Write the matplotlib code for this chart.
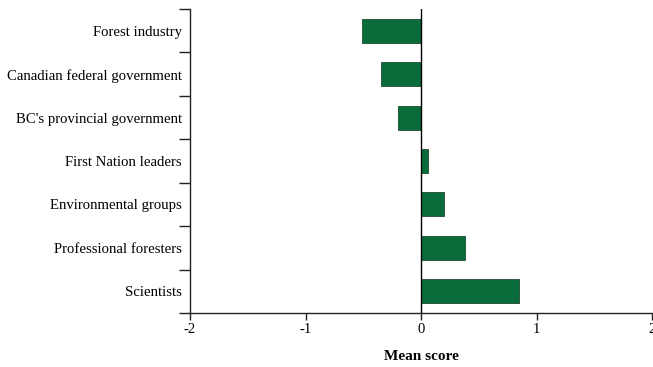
import matplotlib
matplotlib.use("Agg")
import matplotlib.pyplot as plt
import numpy as np

plt.rcParams["font.family"] = ["Liberation Serif", "DejaVu Serif"]
plt.rcParams["axes.unicode_minus"] = False

groups = [
    "Forest industry",
    "Canadian federal government",
    "BC's provincial government",
    "First Nation leaders",
    "Environmental groups",
    "Professional foresters",
    "Scientists",
]
mean_scores = [-0.51, -0.35, -0.20, 0.06, 0.20, 0.38, 0.85]
x_ticks = [-2, -1, 0, 1, 2]

fig = plt.figure(figsize=(6.53, 3.67), dpi=100)
ax = fig.add_axes([190 / 653, 54 / 367, 462 / 653, 304 / 367])

n = len(groups)
ypos = np.arange(n)[::-1]  # first group at top
ax.barh(ypos, mean_scores, height=0.55, color="#0a6b3b",
        edgecolor="#1f4a30", linewidth=0.6, zorder=2)

ax.set_xlim(-2, 2)
ax.set_ylim(-0.5, n - 0.5)
ax.axvline(0, color="black", linewidth=1.0, zorder=3)

for side in ("top", "right"):
    ax.spines[side].set_visible(False)
for side in ("left", "bottom"):
    ax.spines[side].set_linewidth(1.0)
    ax.spines[side].set_color("#222222")

ax.set_yticks(ypos)
ax.set_yticklabels(groups, fontsize=10.6)
ax.tick_params(axis="y", which="major", length=0, pad=6)
ax.set_yticks(np.arange(-0.5, n), minor=True)
ax.tick_params(axis="y", which="minor", length=8, width=1.0, color="#222222")

ax.set_xticks(x_ticks)
ax.set_xticklabels([str(t) for t in x_ticks], fontsize=10.6)
ax.tick_params(axis="x", length=5, width=1.0, color="#222222", pad=2)

ax.set_xlabel("Mean score", fontsize=11, fontweight="bold", labelpad=10)

fig.savefig("out.png", dpi=100)
